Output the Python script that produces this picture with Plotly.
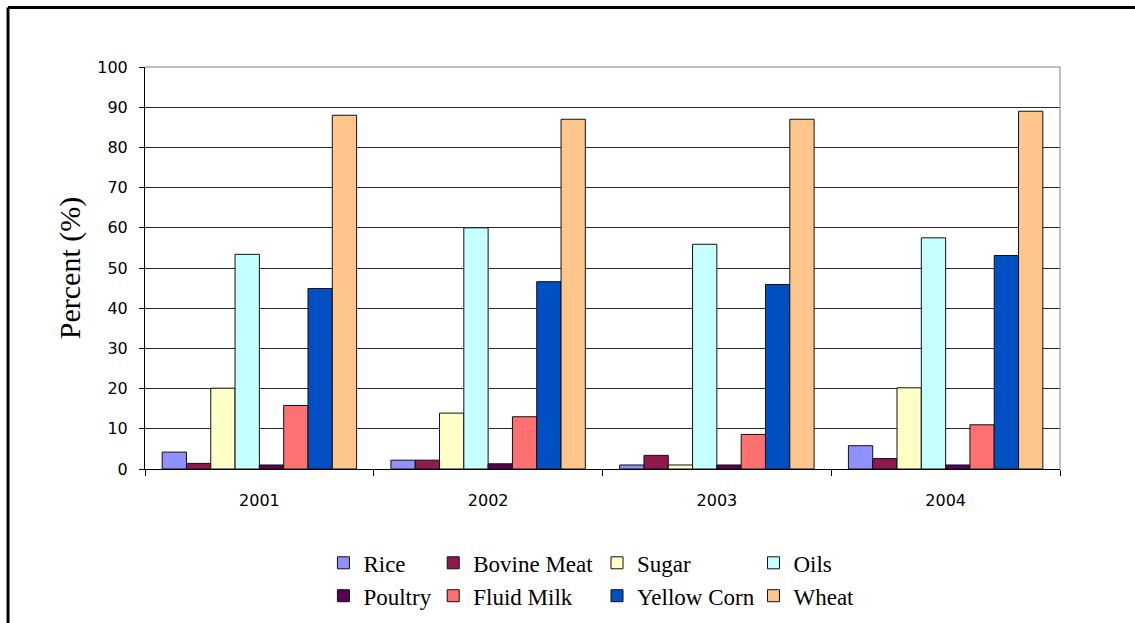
import plotly.graph_objects as go

years = ["2001", "2002", "2003", "2004"]
series_names = ["Rice", "Bovine Meat", "Sugar", "Oils", "Poultry", "Fluid Milk", "Yellow Corn", "Wheat"]
rice = [4.2, 2.2, 1.0, 5.8]
bovine_meat = [1.4, 2.2, 3.4, 2.6]
sugar = [20.1, 13.9, 1.0, 20.2]
oils = [53.4, 60.0, 55.9, 57.5]
poultry = [1.0, 1.3, 1.0, 1.0]
fluid_milk = [15.8, 13.0, 8.6, 11.0]
yellow_corn = [44.9, 46.6, 45.9, 53.1]
wheat = [88.0, 87.0, 87.0, 89.0]

values = [rice, bovine_meat, sugar, oils, poultry, fluid_milk, yellow_corn, wheat]
colors = ["#9090FF", "#8E1A50", "#FFFFC8", "#C6FFFF", "#5A0050", "#FF7070", "#0050C4", "#FFC68C"]
legend_ids = ["legend", "legend2", "legend3", "legend4", "legend", "legend2", "legend3", "legend4"]

fig = go.Figure()
for name, vals, col, lg in zip(series_names, values, colors, legend_ids):
    fig.add_trace(go.Bar(
        x=years, y=vals, name=name, legend=lg,
        marker=dict(color=col, line=dict(color="#111111", width=1)),
    ))

legend_font = dict(family="Liberation Serif, Times New Roman, serif", size=23, color="#000000")
leg_common = dict(orientation="v", yanchor="top", y=-0.18, xanchor="left",
                  font=legend_font, bgcolor="rgba(0,0,0,0)", tracegroupgap=0,
                  itemwidth=30)

tick_font = dict(family="DejaVu Sans, Verdana, sans-serif", size=16, color="#000000")

fig.update_layout(
    width=1135, height=623,
    margin=dict(l=145, r=75, t=67, b=154, autoexpand=False),
    paper_bgcolor="white", plot_bgcolor="white",
    barmode="group", bargap=0.15, bargroupgap=0,
    showlegend=True,
    legend=dict(x=0.195, **leg_common),
    legend2=dict(x=0.315, **leg_common),
    legend3=dict(x=0.494, **leg_common),
    legend4=dict(x=0.665, **leg_common),
    xaxis=dict(
        showline=True, linecolor="#000000", linewidth=1,
        ticks="outside", ticklen=6, tickcolor="#000000", tickson="boundaries",
        tickfont=tick_font, ticklabelstandoff=17,
        showgrid=False, mirror=False,
    ),
    yaxis=dict(
        range=[0, 100], dtick=10, tick0=0,
        showline=True, linecolor="#000000", linewidth=1,
        ticks="outside", ticklen=5, tickcolor="#000000",
        tickfont=tick_font, ticklabelstandoff=8,
        showgrid=True, gridcolor="#2a2a2a", gridwidth=1,
        zeroline=False,
        title=dict(text="Percent (%)", font=dict(family="Liberation Serif, Times New Roman, serif", size=30, color="#000000"), standoff=7),
    ),
)

# plot-area border (top and right, gray)
fig.add_shape(type="line", xref="paper", yref="paper", x0=0, x1=1, y0=1, y1=1,
              line=dict(color="#808080", width=1))
fig.add_shape(type="line", xref="paper", yref="paper", x0=1, x1=1, y0=0, y1=1,
              line=dict(color="#808080", width=1))
# outer frame (top and left edges visible)
fig.add_shape(type="line", xref="paper", yref="paper",
              x0=-0.1497, x1=1.1, y0=1.148, y1=1.148,
              line=dict(color="#000000", width=3), layer="below")
fig.add_shape(type="line", xref="paper", yref="paper",
              x0=-0.1497, x1=-0.1497, y0=1.148, y1=-0.4,
              line=dict(color="#000000", width=3), layer="below")

fig.write_html("out.html")
